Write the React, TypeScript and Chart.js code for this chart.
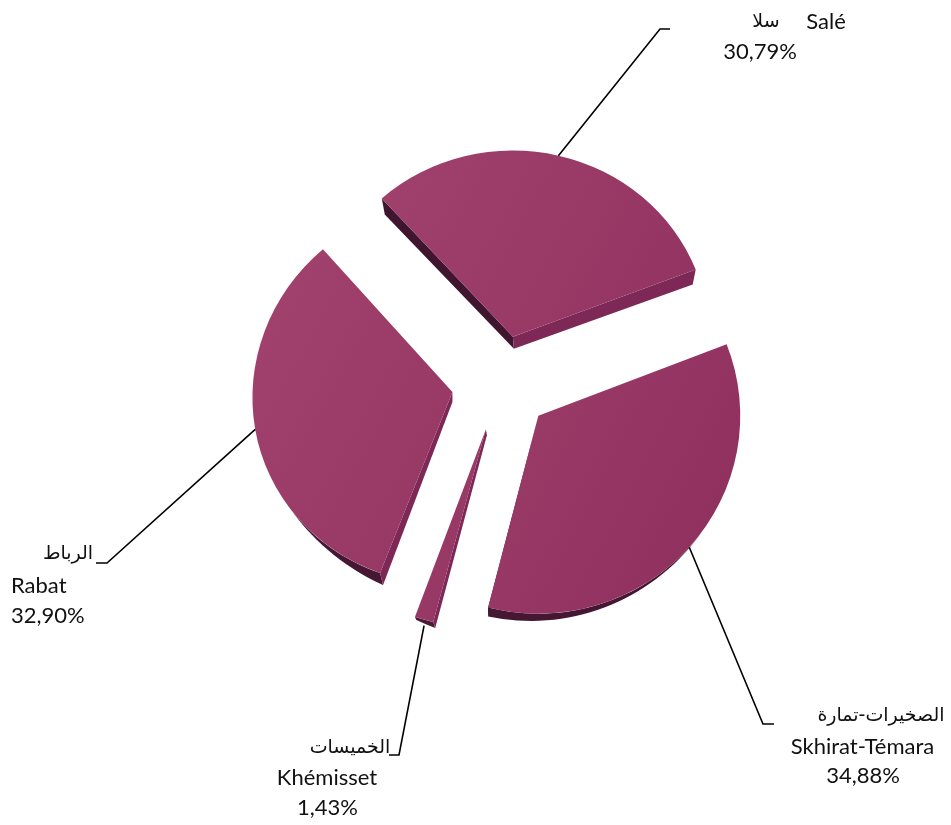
import React, { useEffect, useRef } from "react";
import { Chart, ArcElement, PieController } from "chart.js";

Chart.register(ArcElement, PieController);

const categoriesFr = ["Salé", "Skhirat-Témara", "Khémisset", "Rabat"];
const categoriesAr = ["سلا", "الصخيرات-تمارة", "الخميسات", "الرباط"];
const shares = [30.79, 34.88, 1.43, 32.9];

// Exploded, tilted look of each slice: distance from centre, nudge, stretch and shear.
// Rims: [[dx,dy] at the apex, [dx,dy] at the outer corner]; arcRim: depth of the outer wall,
// which has its full value at "full" along the arc (0..1) and vanishes at "zero".
const sliceStyle: any[] = [
  { d: 47, ex: 1.5, ey: 0, sx: 1.0, sy: 0.95, kx: 0, startRim: [[1, 12], [3, 16]], endRim: [[1, 12], [-3, 15]], arcRim: null, arc: "", start: "#3f1530", end: "#7d2856" },
  { d: 50, ex: 0.5, ey: 0, sx: 1.03, sy: 1.01, kx: 0, startRim: null, endRim: [[0, 0], [0, 8]], arcRim: [0, 9], full: 1, zero: 0.45, arc: "#451733", start: "", end: "#451733" },
  { d: 50, ex: 0, ey: -1, sx: 1.08, sy: 1.015, kx: 0, startRim: [[1, 6], [2, 6]], endRim: null, arcRim: [2, 6], full: 0, zero: 2, arc: "#4a1a38", start: "#7d2856", end: "" },
  { d: 49, ex: 0, ey: 0, sx: 1.02, sy: 0.98, kx: -0.03, startRim: [[0, 10], [3, 12]], endRim: null, arcRim: [3, 12], full: 0, zero: 0.27, arc: "#451733", start: "#7d2856", end: "" },
];

// Label placement: text rows [x, y, align], elbow and tail of each leader line.
const labelLayout: any[] = [
  { ar: [766, 22, "center"], fr: [826, 22, "center"], pct: [760, 52, "center"], elbow: [660, 29], tail: [670, 29] },
  { ar: [881, 716, "center"], fr: [862.5, 747, "center"], pct: [863, 776, "center"], elbow: [763, 724], tail: [774, 724] },
  { ar: [350, 748, "center"], fr: [327, 778, "center"], pct: [327.5, 808, "center"], elbow: [399, 755], tail: [389, 755] },
  { ar: [68, 554, "center"], fr: [11, 586, "left"], pct: [11, 616, "left"], elbow: [107, 563], tail: [96, 563] },
];

const LATIN_FONT = '22px Lato, "Open Sans", sans-serif';
const ARABIC_FONT = '19px "DejaVu Sans", sans-serif';

const apexOf = (el: any, s: any) => {
  const mid = (el.startAngle + el.endAngle) / 2;
  return [el.x + Math.cos(mid) * s.d + s.ex, el.y + Math.sin(mid) * s.d + s.ey];
};

const pointOn = (el: any, s: any, theta: number, rr: number) => {
  const a = apexOf(el, s);
  const px = Math.cos(theta) * rr;
  const py = Math.sin(theta) * rr;
  return [a[0] + px * s.sx + py * s.sy * s.kx, a[1] + py * s.sy];
};

const wall = (
  ctx: CanvasRenderingContext2D,
  pts: number[][],
  shift: (i: number) => number[],
  color: string
) => {
  ctx.beginPath();
  pts.forEach((p, i) => (i ? ctx.lineTo(p[0], p[1]) : ctx.moveTo(p[0], p[1])));
  for (let i = pts.length - 1; i >= 0; i--) {
    const v = shift(i);
    ctx.lineTo(pts[i][0] + v[0], pts[i][1] + v[1]);
  }
  ctx.closePath();
  ctx.fillStyle = color;
  ctx.fill();
};

const piePlugin = {
  id: "pie3d",
  beforeDatasetsDraw(chart: any) {
    const ctx: CanvasRenderingContext2D = chart.ctx;
    chart.getDatasetMeta(0).data.forEach((el: any, i: number) => {
      const s = sliceStyle[i];
      if (!el.__wrapped) {
        el.__wrapped = true;
        el.draw = function (c: CanvasRenderingContext2D) {
          const a = apexOf(el, s);
          c.save();
          c.transform(s.sx, 0, s.kx * s.sy, s.sy, a[0], a[1]);
          c.translate(-el.x, -el.y);
          ArcElement.prototype.draw.call(el, c);
          c.restore();
        };
      }
      const arcPts: number[][] = [];
      for (let k = 0; k <= 60; k++) {
        const t = el.startAngle + ((el.endAngle - el.startAngle) * k) / 60;
        arcPts.push(pointOn(el, s, t, el.outerRadius));
      }
      const apex = apexOf(el, s);
      if (s.arcRim) {
        wall(
          ctx,
          arcPts,
          (n) => {
            const f = Math.max(0, Math.min(1, (n / 60 - s.zero) / (s.full - s.zero)));
            return [s.arcRim[0] * f, s.arcRim[1] * f];
          },
          s.arc
        );
      }
      if (s.startRim) wall(ctx, [apex, arcPts[0]], (n) => s.startRim[n], s.start);
      if (s.endRim) wall(ctx, [apex, arcPts[60]], (n) => s.endRim[n], s.end);
    });
  },
  afterDatasetsDraw(chart: any) {
    const ctx: CanvasRenderingContext2D = chart.ctx;
    ctx.save();
    chart.getDatasetMeta(0).data.forEach((el: any, i: number) => {
      const s = sliceStyle[i];
      const l = labelLayout[i];
      const mid = (el.startAngle + el.endAngle) / 2;
      const anchor = pointOn(el, s, mid, el.outerRadius);
      const lift = s.arcRim && s.zero > 1 ? s.arcRim[1] : 0;
      ctx.beginPath();
      ctx.moveTo(anchor[0], anchor[1] + lift);
      ctx.lineTo(l.elbow[0], l.elbow[1]);
      ctx.lineTo(l.tail[0], l.tail[1]);
      ctx.strokeStyle = "#000000";
      ctx.lineWidth = 1.6;
      ctx.stroke();

      ctx.fillStyle = "#111111";
      ctx.textBaseline = "middle";
      const put = (txt: string, p: any, font: string) => {
        ctx.font = font;
        ctx.textAlign = p[2];
        ctx.fillText(txt, p[0], p[1]);
      };
      put(categoriesAr[i], l.ar, ARABIC_FONT);
      put(categoriesFr[i], l.fr, LATIN_FONT);
      put(shares[i].toFixed(2).replace(".", ",") + "%", l.pct, LATIN_FONT);
    });
    ctx.restore();
  },
};

export default function App() {
  const ref = useRef<HTMLCanvasElement>(null);
  useEffect(() => {
    const canvas = ref.current!;
    const g = canvas.getContext("2d")!.createLinearGradient(250, 250, 740, 500);
    g.addColorStop(0, "#a3456f");
    g.addColorStop(1, "#8e2e5e");
    const chart = new Chart(canvas, {
      type: "pie",
      data: {
        labels: categoriesFr,
        datasets: [{ data: shares, backgroundColor: g, borderWidth: 0, hoverBorderWidth: 0, hoverOffset: 0 }],
      },
      options: {
        responsive: false,
        animation: false,
        rotation: -42,
        events: [],
        layout: { padding: { left: 304.5, right: 254.5, top: 186.5, bottom: 246.5 } },
      },
      plugins: [piePlugin],
    } as any);
    return () => chart.destroy();
  }, []);
  return (
    <canvas
      ref={ref}
      width={951}
      height={825}
      style={{ position: "absolute", left: 0, top: 0, display: "block", background: "#ffffff" }}
    />
  );
}
